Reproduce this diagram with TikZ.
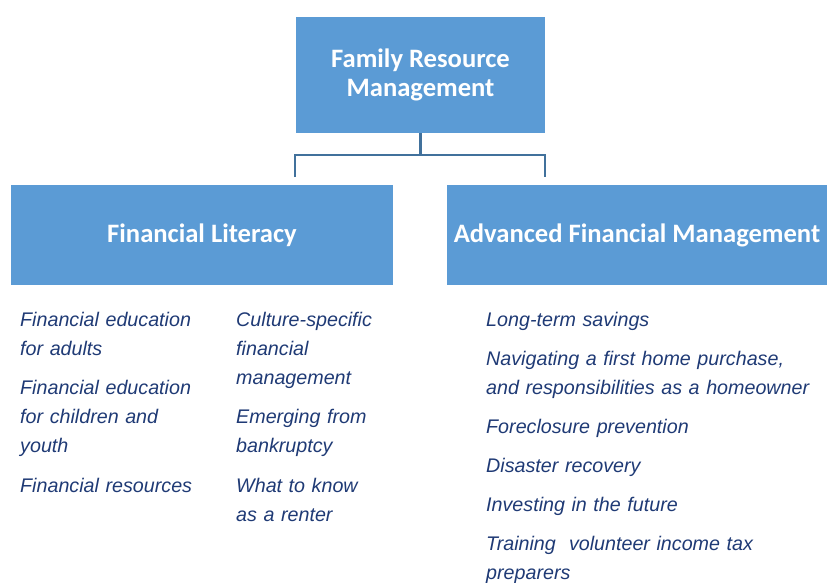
\documentclass[tikz,border=0pt]{standalone}
\usepackage{fontspec}
\setmainfont{Liberation Sans}
\newfontfamily\headfont{Carlito}
\definecolor{boxblue}{HTML}{5B9BD5}
\definecolor{linkblue}{HTML}{41719C}
\definecolor{itemblue}{HTML}{1F3A75}
\tikzset{
  headbox/.style={fill=boxblue, draw=none, text=white, align=center, inner sep=0pt,
    font=\headfont\bfseries\fontsize{26.6}{29}\selectfont},
  item/.style={anchor=base west, inner sep=0pt, text=itemblue, align=left, text width=#1,
    font=\itshape\fontsize{19.7}{29}\selectfont},
  item/.default=180pt,
  link/.style={draw=linkblue, line width=2pt},
  stem/.style={draw=linkblue, line width=3pt}
}
\begin{document}
\begin{tikzpicture}[x=1pt,y=-1pt]
\useasboundingbox (0,0) rectangle (827,583);
% boxes
\node[headbox, minimum width=249pt, minimum height=116pt] (top) at (420.5,75) {Family Resource\\Management};
\node[headbox, minimum width=382pt, minimum height=100pt] (lit) at (202,235) {Financial Literacy};
\node[headbox, minimum width=380pt, minimum height=100pt] (adv) at (637,235) {Advanced Financial Management};
% connector
\coordinate (mid) at (420.5,155);
\coordinate (lend) at (295,177);
\coordinate (rend) at (545,177);
\draw[stem] (top.south) -- (mid);
\draw[link] (lend) |- (mid) -| (rend);
% left column
\node[item] (l1) at (20,326) {Financial education\\for adults};
\node[item] (l2) at (20,394) {Financial education\\for children and\\youth};
\node[item] (l3) at (20,492) {Financial resources};
% middle column
\node[item=160pt] (m1) at (236,326) {Culture-specific\\financial\\management};
\node[item=160pt] (m2) at (236,423) {Emerging from\\bankruptcy};
\node[item=160pt] (m3) at (236,492) {What to know\\as a renter};
% right column
\node[item=340pt] (r1) at (486,326) {Long-term savings};
\node[item=340pt] (r2) at (486,365) {Navigating a first home purchase,\\and responsibilities as a homeowner};
\node[item=340pt] (r3) at (486,433) {Foreclosure prevention};
\node[item=340pt] (r4) at (486,472) {Disaster recovery};
\node[item=340pt] (r5) at (486,511) {Investing in the future};
\node[item=340pt] (r6) at (486,550) {Training\ \ volunteer income tax\\preparers};
\end{tikzpicture}
\end{document}
